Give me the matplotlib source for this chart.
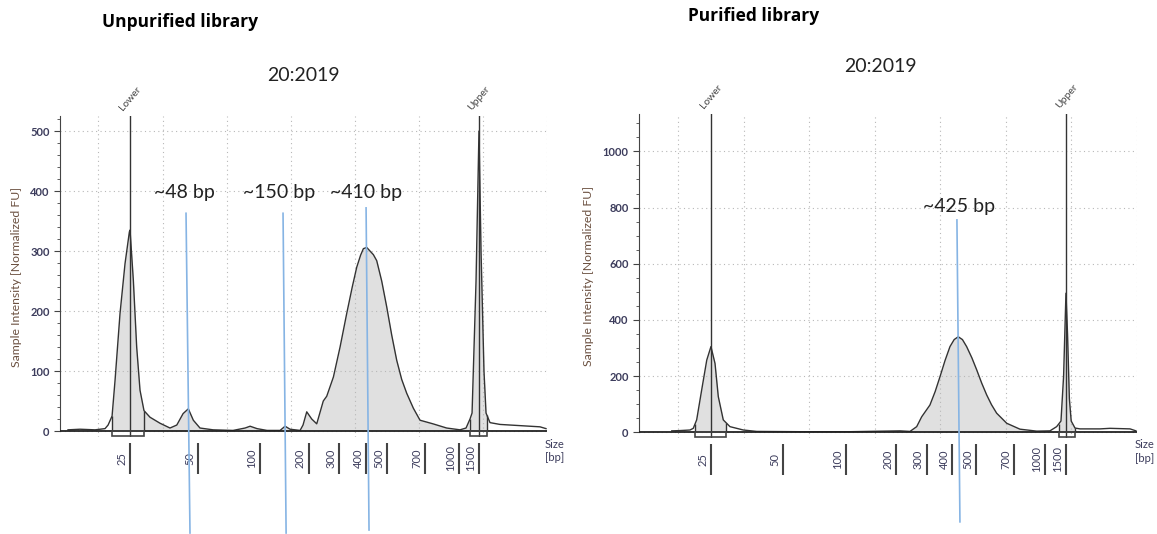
import numpy as np
import matplotlib
matplotlib.use("Agg")
import matplotlib.pyplot as plt
from matplotlib.patches import Rectangle

plt.rcParams['font.family'] = ['Lato', 'DejaVu Sans']

# migration time (s) vs sample intensity (normalized FU)
unpur_time = [17.62, 18.56, 19.73, 20.51, 20.75, 21.06, 21.29, 21.68, 22.07, 22.41, 22.46,
              22.72, 22.98, 23.24, 23.55, 24.02, 24.80, 25.58, 26.11, 26.60, 27.01, 27.40,
              27.92, 28.94, 30.50, 31.44, 31.83, 32.37, 33.15, 34.17, 34.56, 34.95, 35.73,
              35.96, 36.25, 36.64, 37.03, 37.54, 37.81, 38.33, 38.85, 39.37, 39.80, 40.15,
              40.45, 40.67, 40.93, 41.19, 41.45, 41.71, 42.10, 42.49, 42.88, 43.27, 43.66,
              44.05, 44.57, 45.09, 46.10, 47.17, 48.21, 48.68,
              48.99, 49.15, 49.46, 49.69, 49.85, 50.08, 50.24, 50.55, 51.33, 52.89, 54.45, 54.92]
unpur_fu = [2, 3, 2, 4, 10, 25, 84, 196, 279, 332, 335,
            251, 140, 68, 34, 23, 13, 5, 10, 29, 37, 18,
            5, 2, 1, 5, 8, 4, 1, 1, 8, 3, 1,
            10, 32, 20, 12, 50, 58, 90, 140, 196, 240, 273,
            293, 304, 306, 300, 294, 284, 250, 207, 160, 118, 86,
            63, 38, 18, 12, 5, 2, 5,
            20, 30, 250, 500, 300, 100, 30, 14, 11, 9, 7, 4]

pur_time = [19.50, 20.13, 20.89, 21.14, 21.40, 21.78, 22.17, 22.49, 22.80, 23.05, 23.43,
            23.94, 24.96, 25.98, 29.29, 33.10, 36.92, 37.68, 38.19, 38.57, 39.20, 39.60,
            39.97, 40.35, 40.73, 41.05, 41.36, 41.68, 42.00, 42.40, 42.77, 43.15, 43.53,
            43.90, 44.29, 45.06, 46.07, 47.35, 48.36, 48.87,
            49.20, 49.40, 49.58, 49.70, 49.84, 49.98, 50.27, 50.65, 52.18, 52.94, 54.47, 54.92]
pur_fu = [5, 6, 8, 14, 44, 150, 257, 305, 245, 127, 44,
          20, 8, 3, 2, 2, 5, 3, 20, 55, 97, 145,
          198, 255, 305, 330, 340, 330, 305, 265, 222, 175, 133,
          98, 68, 32, 11, 4, 5, 20,
          40, 200, 495, 350, 120, 40, 15, 12, 12, 14, 12, 5]

# ladder sizes and where they fall on the time axis
ladder_labels = ['25', '50', '100', '200', '300', '400', '500', '700', '1000', '1500']
unpur_ladder = [22.46, 27.77, 32.6, 36.4, 38.8, 40.9, 42.5, 45.5, 48.1, 49.7]
pur_ladder = [22.5, 27.96, 32.8, 36.6, 38.95, 40.9, 42.7, 45.6, 48.0, 49.6]

# shaded peak windows (lower marker, sample, upper marker)
unpur_windows = [(21.06, 23.55), (23.55, 48.9), (49.0, 50.3)]
pur_windows = [(21.27, 23.64), (37.4, 48.0), (49.05, 50.27)]

# peak call annotations: label, text pos, line top, line bottom
unpur_calls = [('~48 bp', (26.68, 398), (26.83, 363), (27.14, -170)),
               ('~150 bp', (34.09, 398), (34.40, 363), (34.64, -170)),
               ('~410 bp', (40.88, 398), (40.88, 372), (41.11, -165))]
pur_calls = [('~425 bp', (41.42, 802), (41.26, 756), (41.49, -319))]

TXT = '#3c3c5c'
LINE = '#333333'
FILL = '#e0e0e0'
BLUE = '#86b4e4'


def draw_panel(ax, t, fu, ladder, windows, calls, ylim, major, minor, box_h):
    t = np.array(t, float)
    fu = np.array(fu, float)
    ax.set_xlim(17, 55)
    ax.set_ylim(*ylim)
    for s in ['top', 'right', 'bottom']:
        ax.spines[s].set_visible(False)
    ax.spines['left'].set_bounds(0, ylim[1])
    ax.spines['left'].set_color('#444444')
    ax.axhline(0, color='#222222', lw=1.3, zorder=4)

    ax.set_xticks(np.arange(20, 56, 5))
    ax.tick_params(axis='x', length=0, labelbottom=False)
    ax.set_yticks(np.arange(0, ylim[1], major))
    ax.set_yticks(np.arange(0, ylim[1], minor), minor=True)
    ax.tick_params(axis='y', which='major', length=4, labelsize=8, labelcolor=TXT, color='#444444')
    ax.tick_params(axis='y', which='minor', length=2, color='#444444')
    for lb in ax.get_yticklabels():
        lb.set_fontweight('bold')
    ax.grid(True, which='major', color='#b8b8b8', ls=(0, (1, 3)), lw=0.8)
    ax.set_ylabel('Sample Intensity [Normalized FU]', fontsize=8.8, color='#6b5040', labelpad=6)

    # shaded peaks
    for i, (a, b) in enumerate(windows):
        xs = np.concatenate([[a], t[(t > a) & (t < b)], [b]])
        ys = np.interp(xs, t, fu)
        ax.fill_between(xs, 0, ys, color=FILL, lw=0, zorder=1)
        if i != 1:
            ax.vlines([a, b], 0, ys[[0, -1]], color=LINE, lw=1, zorder=3)
            ax.add_patch(Rectangle((a, -box_h), b - a, box_h, fill=False, ec='#444444',
                                   lw=1.2, clip_on=False, zorder=5))
    ax.plot(t, fu, color=LINE, lw=1, zorder=3)

    # lower / upper marker lines
    for x, name in [(ladder[0], 'Lower'), (ladder[-1], 'Upper')]:
        ax.axvline(x, color=LINE, lw=1, zorder=3)
        ax.annotate(name, xy=(x, 1), xycoords=ax.get_xaxis_transform(), xytext=(-4, 3),
                    textcoords='offset points', rotation=50, rotation_mode='anchor',
                    ha='left', va='bottom', fontsize=7.5, color='#444444')

    # size ladder below the axis
    xt = ax.get_xaxis_transform()
    ax.vlines(ladder, -0.018, -0.115, transform=xt, color='#444444', lw=1.5, clip_on=False)
    for x, lab in zip(ladder, ladder_labels):
        ax.annotate(lab, xy=(x, -0.066), xycoords=xt, xytext=(-2, 0), textcoords='offset points',
                    rotation=90, ha='right', va='center', fontsize=8, color=TXT)
    ax.text(0.996, -0.005, 'Size\n[bp]', transform=ax.transAxes, ha='left', va='top',
            fontsize=8, color=TXT, linespacing=1.3)

    # peak calls
    for lab, tp, top, bot in calls:
        ax.text(tp[0], tp[1], lab, ha='center', va='center', fontsize=14, color='#222222', zorder=6)
        ax.plot([top[0], bot[0]], [top[1], bot[1]], color=BLUE, lw=1.2, clip_on=False, zorder=6)


fig = plt.figure(figsize=(11.57, 5.34), dpi=100)
ax1 = fig.add_axes([0.0519, 0.1816, 0.4209, 0.601])
ax2 = fig.add_axes([0.5523, 0.1800, 0.4304, 0.6065])

draw_panel(ax1, unpur_time, unpur_fu, unpur_ladder, unpur_windows, unpur_calls,
           (-10, 525), 100, 20, 8)
draw_panel(ax2, pur_time, pur_fu, pur_ladder, pur_windows, pur_calls,
           (-20, 1133), 200, 50, 18)

title_font = dict(family=['Open Sans', 'DejaVu Sans'], fontsize=12.5, fontweight='bold', va='center')
fig.text(0.088, 0.959, 'Unpurified library', **title_font)
fig.text(0.262, 0.858, '20:2019', fontsize=14, ha='center', va='center', color='#222222')
fig.text(0.595, 0.970, 'Purified library', **title_font)
fig.text(0.7606, 0.876, '20:2019', fontsize=14, ha='center', va='center', color='#222222')

fig.savefig('out.png', dpi=100)
